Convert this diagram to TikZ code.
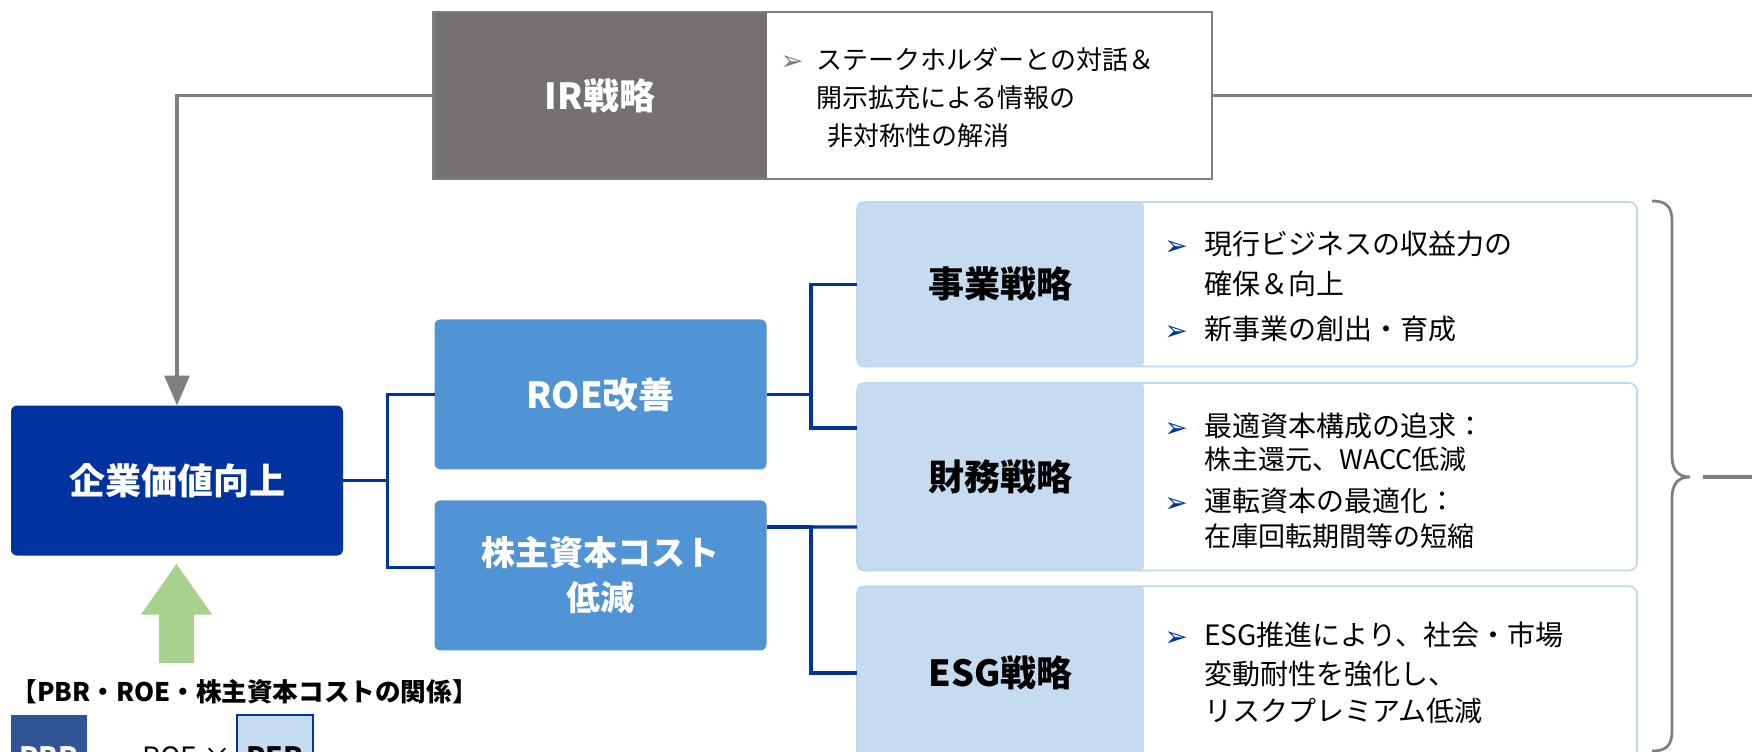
\documentclass[tikz,border=0pt]{standalone}
\usepackage{fontspec}
\setmainfont{Noto Sans CJK JP}
\newfontfamily\dejavu{DejaVu Sans}
\usetikzlibrary{arrows.meta}
\definecolor{irgray}{HTML}{767171}
\definecolor{linegray}{HTML}{7F7F7F}
\definecolor{navy}{HTML}{0033A0}
\definecolor{midblue}{HTML}{5094D6}
\definecolor{paleblue}{HTML}{C5DCF0}
\definecolor{paleedge}{HTML}{BDD7EE}
\definecolor{arrowgreen}{HTML}{A9D18E}
\definecolor{pbrblue}{HTML}{2F5597}
\tikzset{
  grayline/.style={draw=linegray, line width=1.7pt},
  conn/.style={draw=navy, line width=1.7pt},
  ttl/.style={font=\fontsize{18pt}{22pt}\selectfont\bfseries},
  boxbase/.style={inner sep=0pt, outer sep=0pt},
  ln/.style={anchor=base west, inner sep=0pt, font=\fontsize{14pt}{17pt}\selectfont},
  lnsm/.style={ln, font=\fontsize{13.5pt}{16pt}\selectfont},
  irln/.style={ln, font=\fontsize{13pt}{16pt}\selectfont},
  bul/.style={anchor=base west, inner sep=0pt, font=\dejavu\fontsize{14pt}{16pt}\selectfont, text=navy},
  irbul/.style={bul, text=linegray},
  leftpart/.style={boxbase, fill=paleblue, rounded corners=2pt, minimum width=143.5pt, ttl},
  rightpart/.style={boxbase, fill=white, anchor=west, minimum width=246.5pt},
  outline/.style={draw=paleedge, line width=0.8pt, rounded corners=4pt},
}
\begin{document}
\begin{tikzpicture}[x=0.5pt,y=-0.5pt]
\useasboundingbox (0,0) rectangle (1752,751);
\clip (0,0) rectangle (1752,751);

% IR strategy
\node[boxbase, fill=irgray, minimum width=166.5pt, minimum height=83.25pt, ttl, text=white] (irL) at (600,95.5) {IR戦略};
\node[boxbase, fill=white, anchor=west, minimum width=222.75pt, minimum height=83.25pt] (irR) at (irL.east) {};
\draw[linegray, line width=1.1pt] (irL.north west) rectangle (irR.south east);
\node[irbul] (ib1) at (780,70) {➢};
\node[irln] (il1) at (816,69) {ステークホルダーとの対話＆};
\node[irln] (il2) at (816,107) {開示拡充による情報の};
\node[irln] (il3) at (827,145) {非対称性の解消};
\coordinate (irEnd) at (1752,95.5);

% main boxes
\node[boxbase, fill=navy, rounded corners=3pt, minimum width=166pt, minimum height=75pt, ttl, text=white] (corp) at (177,480.5) {企業価値向上};
\node[boxbase, fill=midblue, rounded corners=3pt, minimum width=166pt, minimum height=75pt, ttl, text=white] (roe) at (600.5,394.4) {ROE改善};
\node[boxbase, fill=midblue, rounded corners=3pt, minimum width=166pt, minimum height=75pt, font=\fontsize{17pt}{22.5pt}\selectfont\bfseries, text=white, align=center] (kabu) at (600.5,575.4) {株主資本コスト\\低減};

% strategy boxes
\node[leftpart, minimum height=82.25pt] (jL) at (1000.5,284.25) {事業戦略};
\node[rightpart, minimum height=82.25pt] (jR) at (jL.east) {};
\draw[outline] (jL.north west) rectangle (jR.south east);
\node[leftpart, minimum height=93.75pt] (zL) at (1000.5,476.75) {財務戦略};
\node[rightpart, minimum height=93.75pt] (zR) at (zL.east) {};
\draw[outline] (zL.north west) rectangle (zR.south east);
\node[leftpart, minimum height=86.75pt] (eL) at (1000.5,673) {ESG戦略};
\node[rightpart, minimum height=86.75pt] (eR) at (eL.east) {};
\draw[outline] (eL.north west) rectangle (eR.south east);

% strategy texts
\node[bul] (jb1) at (1164,255) {➢};
\node[ln] (jt1) at (1204,254) {現行ビジネスの収益力の};
\node[ln] (jt2) at (1204,294.4) {確保＆向上};
\node[bul] (jb2) at (1164,340) {➢};
\node[ln] (jt3) at (1204,339) {新事業の創出・育成};

\node[bul] (zb1) at (1164,437) {➢};
\node[ln] (zt1) at (1204,436) {最適資本構成の追求：};
\node[lnsm] (zt2) at (1204,469) {株主還元、WACC低減};
\node[bul] (zb2) at (1164,512) {➢};
\node[ln] (zt3) at (1204,511) {運転資本の最適化：};
\node[lnsm] (zt4) at (1204,546) {在庫回転期間等の短縮};

\node[bul] (eb1) at (1164,646) {➢};
\node[ln] (et1) at (1204,645) {ESG推進により、社会・市場};
\node[ln] (et2) at (1204,684) {変動耐性を強化し、};
\node[ln] (et3) at (1204,721) {リスクプレミアム低減};

% gray connectors
\draw[grayline, -{Triangle[width=12.5pt,length=15pt]}] (irL.west) -| (corp.north);
\draw[grayline] (irR.east) -- (irEnd);

% blue connectors left
\coordinate (j1) at (387.7,480.5);
\coordinate (kIn) at ([yshift=3.9pt]kabu.west);
\draw[conn] (corp.east) -- (j1);
\draw[conn] (roe.west) -| (j1) |- (kIn);

% blue connectors right
\coordinate (j2) at (811,394.4);
\coordinate (zIn1) at ([yshift=24.4pt]zL.west);
\coordinate (zIn2) at ([yshift=-25.1pt]zL.west);
\coordinate (kOut) at ([yshift=24.2pt]kabu.east);
\coordinate (j3) at (811,527);
\draw[conn] (roe.east) -- (j2);
\draw[conn] (jL.west) -| (j2) |- (zIn1);
\draw[conn] (kOut) -- (j3) |- (eL.west);
\draw[conn] (zIn2) -- (j3);

% brace
\draw[linegray, line width=1.4pt] (1652,201) .. controls (1667,201) and (1672,207) .. (1672,222) -- (1672,456) .. controls (1672,470) and (1678,477) .. (1690,477) .. controls (1678,477) and (1672,484) .. (1672,498) -- (1672,730) .. controls (1672,745) and (1667,751) .. (1652,751);
\coordinate (bOut) at (1703,477);
\coordinate (bEnd) at (1752,477);
\draw[grayline] (bOut) -- (bEnd);

% green arrow
\fill[arrowgreen] (159,663) -- (159,614.5) -- (141,614.5) -- (176.5,564) -- (212,614.5) -- (194,614.5) -- (194,663) -- cycle;

% relation
\node[anchor=west, inner sep=0pt, font=\fontsize{12.8pt}{15pt}\selectfont\bfseries] (rel) at (11,692) {【PBR・ROE・株主資本コストの関係】};
\node[boxbase, fill=pbrblue, minimum width=38pt, minimum height=42.5pt, text=white, font=\fontsize{14pt}{17pt}\selectfont\bfseries] (pbr) at (49,757.5) {PBR};
\node[anchor=base west, inner sep=0pt, font=\fontsize{14pt}{17pt}\selectfont] (roeTxt) at (142,767) {ROE ×};
\node[boxbase, fill=paleblue, draw=navy, line width=0.8pt, minimum width=38pt, minimum height=42.5pt, font=\fontsize{14pt}{17pt}\selectfont\bfseries] (per) at (275,757.5) {PER};
\end{tikzpicture}
\end{document}
